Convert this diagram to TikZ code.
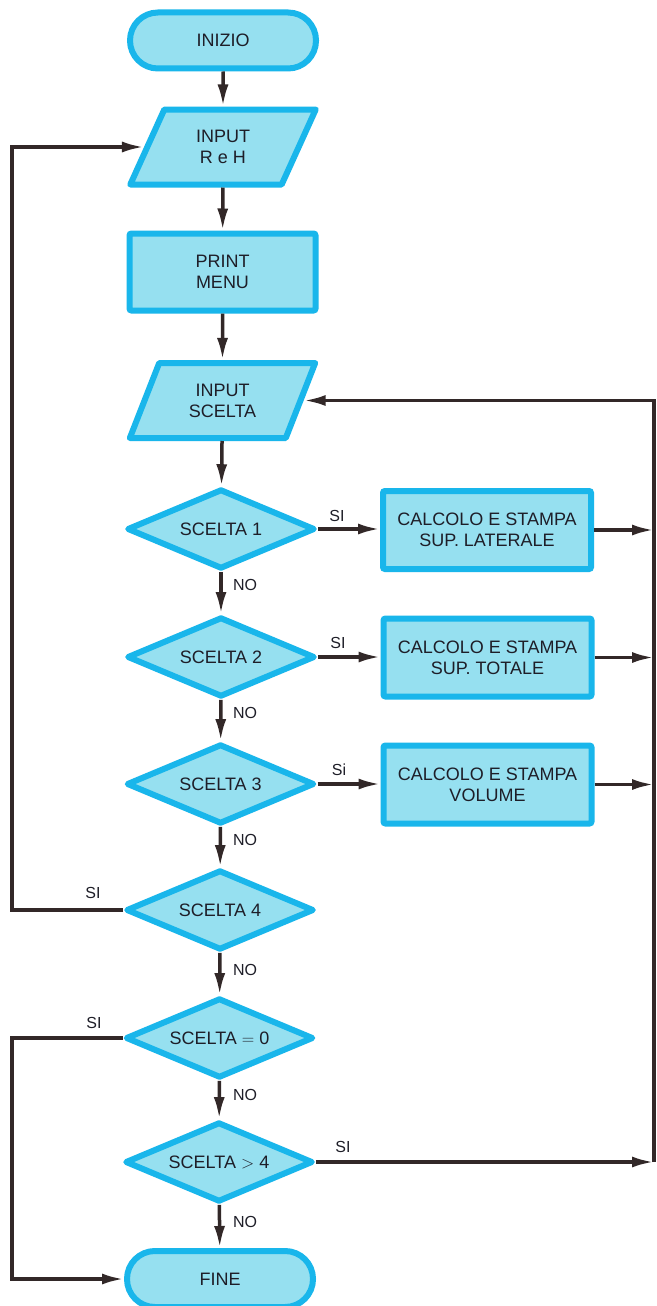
\documentclass[tikz,border=0pt]{standalone}
\usepackage{fontspec}
\setmainfont{Liberation Sans}
\usetikzlibrary{shapes.geometric,arrows.meta}
\definecolor{fillc}{RGB}{150,224,240}
\definecolor{bordc}{RGB}{25,182,235}
\definecolor{linec}{RGB}{50,40,40}
\definecolor{txtc}{RGB}{30,30,40}
\newcommand\myBoxFont{\fontsize{18pt}{21pt}\selectfont}
\newcommand\myLblFont{\fontsize{16pt}{18pt}\selectfont}
\tikzset{
  base/.style={draw=bordc, fill=fillc, line width=6pt, inner sep=0pt, font=\myBoxFont, align=center, text=txtc},
  term/.style={base, rectangle, rounded corners=27.9pt, minimum width=186pt, minimum height=56pt},
  proc/.style={base, rectangle, rounded corners=2pt, minimum width=186pt, minimum height=77pt},
  io/.style={base, trapezium, trapezium left angle=65, trapezium right angle=115, trapezium stretches=true, minimum width=186pt, minimum height=75pt, line join=round},
  dec/.style={base, diamond, shape aspect=2.35, minimum width=188pt, minimum height=80pt, line join=round},
  calc/.style={base, rectangle, rounded corners=2pt, minimum width=208pt, minimum height=78pt},
  arr/.style={draw=linec, line width=3.5pt, -{Latex[length=22pt,width=11pt]}},
  lbl/.style={font=\myLblFont, text=txtc, inner sep=0pt}
}
\begin{document}
\begin{tikzpicture}[x=1pt,y=-1pt]
\useasboundingbox (0,0) rectangle (656,1306);
\fill[white] (0,0) rectangle (656,1306);
\clip (0,0) rectangle (656,1306);
% nodes
\node[term] (start) at (223,40.5) {INIZIO};
\node[io] (in1) at (223,147) {INPUT\\R e H};
\node[proc] (pm) at (222.5,272) {PRINT\\MENU};
\node[io] (in2) at (222.5,400.5) {INPUT\\SCELTA};
\node[dec] (d1) at (221,529) {SCELTA 1};
\node[calc] (c1) at (487,530) {CALCOLO E STAMPA\\SUP. LATERALE};
\node[dec] (d2) at (221,657) {SCELTA 2};
\node[calc] (c2) at (487.5,657.5) {CALCOLO E STAMPA\\SUP. TOTALE};
\node[dec] (d3) at (220.5,784) {SCELTA 3};
\node[calc] (c3) at (487.5,784.5) {CALCOLO E STAMPA\\VOLUME};
\node[dec] (d4) at (220,910) {SCELTA 4};
\node[dec] (d5) at (219.5,1038) {SCELTA $=$ 0};
\node[dec] (d6) at (219,1162) {SCELTA $>$ 4};
\node[term] (fine) at (220,1279) {FINE};
\coordinate (L) at (12,0);
\coordinate (R) at (654,0);
% vertical flow
\draw[arr] (start) -- (in1);
\draw[arr] (in1) -- (pm);
\draw[arr] (pm) -- (in2);
\draw[arr] (in2) -- (d1);
\draw[arr] (d1) -- (d2);
\draw[arr] (d2) -- (d3);
\draw[arr] (d3) -- (d4);
\draw[arr] (d4) -- (d5);
\draw[arr] (d5) -- (d6);
\draw[arr] (d6) -- (fine);
% yes branches
\draw[arr] (d1.east) -- (d1.east -| c1.west);
\draw[arr] (d2.east) -- (d2.east -| c2.west);
\draw[arr] (d3.east) -- (d3.east -| c3.west);
\draw[arr] (c1.east) -- (c1.east -| R);
\draw[arr] (c2.east) -- (c2.east -| R);
\draw[arr] (c3.east) -- (c3.east -| R);
\draw[arr] (d6.east) -- (d6.east -| R);
\draw[arr] (d6.east -| R) |- (in2.east);
\draw[arr] (d4.west) -- (d4.west -| L) |- (in1.west);
\draw[arr] (d5.west) -- (d5.west -| L) |- (fine.west);
% labels
\node[lbl] (s1) at (337,516) {SI};
\node[lbl] (s2) at (338,643) {SI};
\node[lbl] (s3) at (339,770) {Si};
\node[lbl] (s4) at (93,893) {SI};
\node[lbl] (s5) at (94,1023) {SI};
\node[lbl] (s6) at (343,1147) {SI};
\node[lbl] (n1) at (245,585) {NO};
\node[lbl] (n2) at (245,713) {NO};
\node[lbl] (n3) at (245,840) {NO};
\node[lbl] (n4) at (245,970) {NO};
\node[lbl] (n5) at (245,1095) {NO};
\node[lbl] (n6) at (245,1222) {NO};
\end{tikzpicture}
\end{document}
